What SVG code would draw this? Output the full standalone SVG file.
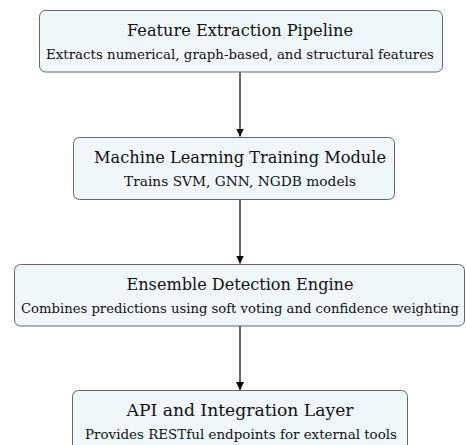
<svg xmlns="http://www.w3.org/2000/svg" width="466" height="445" viewBox="0 0 466 445">
<defs>
<marker id="ah" markerWidth="8" markerHeight="10" refX="8" refY="4" orient="auto" markerUnits="userSpaceOnUse">
<path d="M0,0 L8,4 L0,8 Z" fill="#000"/>
</marker>
<style>
.box{fill:#eff7fa;stroke:#666;stroke-width:1}
.t{font-family:"DejaVu Serif","Liberation Serif",serif;font-size:17px;fill:#111;text-anchor:middle}
.s{font-family:"DejaVu Serif","Liberation Serif",serif;font-size:13.5px;fill:#111;text-anchor:middle}
.e{stroke:#000;stroke-width:1.2;fill:none}
</style>
</defs>
<rect width="466" height="445" fill="#fff"/>
<g id="connectors">
<line class="e" x1="240" y1="72" x2="240" y2="136.5" marker-end="url(#ah)"/>
<line class="e" x1="240" y1="200" x2="240" y2="263.5" marker-end="url(#ah)"/>
<line class="e" x1="240" y1="326" x2="240" y2="390" marker-end="url(#ah)"/>
</g>
<g id="feature">
<rect class="box" x="39.5" y="10.5" width="403" height="61.5" rx="6"/>
<text class="t" x="240" y="36" textLength="226" lengthAdjust="spacingAndGlyphs">Feature Extraction Pipeline</text>
<text class="s" x="240" y="59" textLength="388" lengthAdjust="spacingAndGlyphs">Extracts numerical, graph-based, and structural features</text>
</g>
<g id="ml">
<rect class="box" x="73.5" y="137.5" width="321" height="62" rx="6"/>
<text class="t" x="240" y="163" textLength="292" lengthAdjust="spacingAndGlyphs">Machine Learning Training Module</text>
<text class="s" x="240" y="186" textLength="232" lengthAdjust="spacingAndGlyphs">Trains SVM, GNN, NGDB models</text>
</g>
<g id="ensemble">
<rect class="box" x="14.5" y="264.5" width="450" height="61.5" rx="6"/>
<text class="t" x="240" y="290" textLength="227" lengthAdjust="spacingAndGlyphs">Ensemble Detection Engine</text>
<text class="s" x="240" y="313" style="font-size:12.5px" textLength="438" lengthAdjust="spacingAndGlyphs">Combines predictions using soft voting and confidence weighting</text>
</g>
<g id="api">
<rect class="box" x="72.5" y="390.5" width="335" height="70" rx="6"/>
<text class="t" x="240" y="416" textLength="227" lengthAdjust="spacingAndGlyphs">API and Integration Layer</text>
<text class="s" x="241" y="439" textLength="312" lengthAdjust="spacingAndGlyphs">Provides RESTful endpoints for external tools</text>
</g>
</svg>
